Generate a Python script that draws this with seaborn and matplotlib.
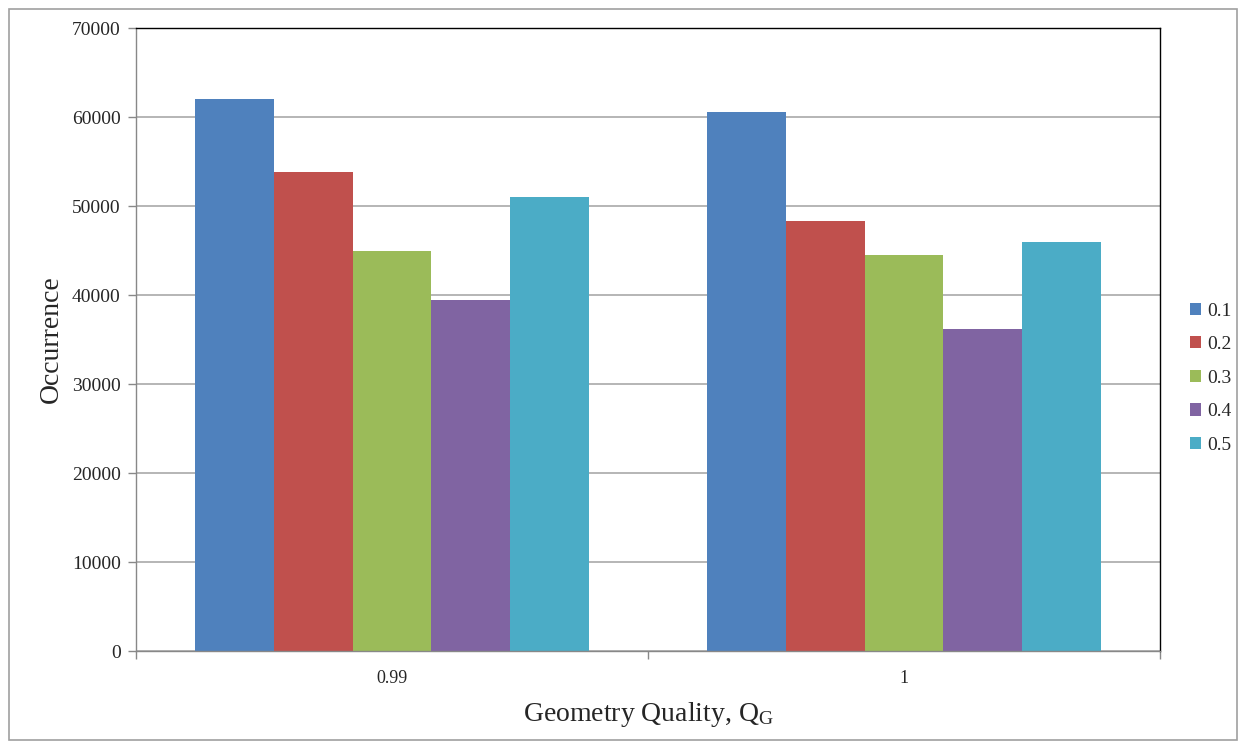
import matplotlib

matplotlib.use("Agg")

import matplotlib.pyplot as plt
import pandas as pd
import seaborn as sns
from matplotlib.patches import Rectangle

categories = ["0.99", "1"]
series = ["0.1", "0.2", "0.3", "0.4", "0.5"]
values_099 = [62000, 53800, 44900, 39400, 51000]
values_1 = [60600, 48300, 44500, 36200, 46000]
palette = ["#4F81BD", "#C0504D", "#9BBB59", "#8064A2", "#4BACC6"]

rows = []
for cat, vals in zip(categories, [values_099, values_1]):
    for s, v in zip(series, vals):
        rows.append({"quality": cat, "threshold": s, "occurrence": v})
df = pd.DataFrame(rows)

sns.set_theme(style="white")
plt.rcParams["font.family"] = ["Liberation Serif", "DejaVu Serif"]
plt.rcParams["mathtext.default"] = "regular"

fig = plt.figure(figsize=(12.43, 7.43), dpi=100)
ax = fig.add_axes([0.1094, 0.1238, 0.8238, 0.8385])

sns.barplot(
    data=df,
    x="quality",
    y="occurrence",
    hue="threshold",
    order=categories,
    hue_order=series,
    palette=palette,
    width=0.768,
    saturation=1,
    linewidth=0,
    ax=ax,
)

ax.set_ylim(0, 70000)
ax.set_xlim(-0.5, 1.5)
ax.set_yticks(range(0, 70001, 10000))
ax.yaxis.grid(True, color="#B0B0B0", linewidth=1.3)
ax.set_axisbelow(True)

# category boundary ticks, labels at centres
ax.set_xticks([0, 1])
ax.set_xticklabels(categories)
ax.tick_params(axis="x", length=0, pad=14, labelsize=13)
ax.set_xticks([-0.5, 0.5, 1.5], minor=True)
ax.tick_params(axis="x", which="minor", length=6, color="#888888", width=1, direction="out", bottom=True)
ax.tick_params(axis="y", length=6, color="#888888", width=1, direction="out", left=True, labelsize=14, pad=5)

for side in ["left", "bottom"]:
    ax.spines[side].set_color("#888888")
    ax.spines[side].set_linewidth(1)
for side in ["top", "right"]:
    ax.spines[side].set_color("black")
    ax.spines[side].set_linewidth(1)

ax.set_ylabel("Occurrence", fontsize=20, labelpad=6)
ax.set_xlabel("Geometry Quality, Q$_{G}$", fontsize=20, labelpad=9)

leg = ax.legend(
    loc="center left",
    bbox_to_anchor=(1.012, 0.438),
    frameon=False,
    fontsize=14,
    handlelength=0.6,
    handleheight=0.6,
    handletextpad=0.3,
    labelspacing=0.85,
    title=None,
)

fig.patches.append(
    Rectangle((0.007, 0.004), 0.988, 0.984, transform=fig.transFigure,
              fill=False, edgecolor="#A0A0A0", linewidth=1.2)
)

fig.savefig("out.png", dpi=100)
